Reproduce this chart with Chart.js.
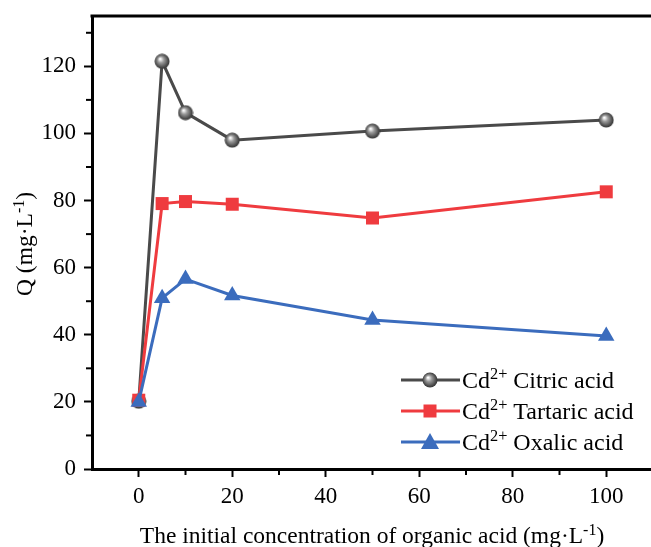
<!DOCTYPE html>
<html>
<head>
<meta charset="utf-8">
<script src="https://cdn.jsdelivr.net/npm/chart.js@4/dist/chart.umd.min.js"></script>
<style>
  html, body { margin: 0; padding: 0; background: #fff; overflow: hidden; }
  canvas { display: block; }
</style>
</head>
<body>
<canvas id="myChart" width="653" height="547"></canvas>
<script>
// data
var concentration = [0, 5, 10, 20, 50, 100];
var citricQ = [20.2, 121.5, 106.2, 98.0, 100.7, 104.0];
var tartaricQ = [20.5, 79.1, 79.7, 78.9, 74.8, 82.6];
var oxalicQ = [20.0, 50.9, 56.6, 51.7, 44.4, 39.6];
var seriesNames = ["Citric acid", "Tartaric acid", "Oxalic acid"];
var xTickLabels = [0, 20, 40, 60, 80, 100];
var yTickLabels = [0, 20, 40, 60, 80, 100, 120];

var serif = "'Liberation Serif', 'Times New Roman', serif";
var grey = "#4a4a4a";
var red = "#ef3b3f";
var blue = "#3b6cbd";

function pts(ys) {
    return concentration.map(function (x, i) { return {x: x, y: ys[i]}; });
}

// shaded sphere marker for citric acid
function makeSphere(d) {
    var c = document.createElement("canvas");
    c.width = d; c.height = d;
    var g = c.getContext("2d");
    var r = d / 2;
    var grad = g.createRadialGradient(r * 0.75, r * 0.7, 0.5, r, r, r);
    grad.addColorStop(0, "#ffffff");
    grad.addColorStop(0.35, "#9a9a9a");
    grad.addColorStop(0.8, "#4a4a4a");
    grad.addColorStop(1, "#2e2e2e");
    g.fillStyle = grad;
    g.beginPath();
    g.arc(r, r, r - 0.5, 0, Math.PI * 2);
    g.fill();
    return c;
}
var sphere = makeSphere(16);

// text with superscripts; parts = [[text, isSup], ...]
function richWidth(ctx, parts, size) {
    var w = 0;
    parts.forEach(function (p) {
        ctx.font = (p[1] ? size * 0.68 : size) + "px " + serif;
        w += ctx.measureText(p[0]).width;
    });
    return w;
}
function drawRich(ctx, parts, x, y, size) {
    parts.forEach(function (p) {
        ctx.font = (p[1] ? size * 0.68 : size) + "px " + serif;
        ctx.fillText(p[0], x, p[1] ? y - size * 0.36 : y);
        x += ctx.measureText(p[0]).width;
    });
}

var decorations = {
    id: "decorations",
    afterDraw: function (chart) {
        var ctx = chart.ctx;
        var area = chart.chartArea;
        var xs = chart.scales.x, ys = chart.scales.y;
        ctx.save();
        ctx.strokeStyle = "#000";
        ctx.fillStyle = "#000";

        // top frame line
        ctx.lineWidth = 3;
        ctx.beginPath();
        ctx.moveTo(area.left - 1.5, area.top);
        ctx.lineTo(area.right, area.top);
        ctx.stroke();

        // minor ticks
        ctx.lineWidth = 2;
        for (var v = 10; v < 110; v += 20) {
            var px = xs.getPixelForValue(v);
            ctx.beginPath();
            ctx.moveTo(px, area.bottom);
            ctx.lineTo(px, area.bottom + 6);
            ctx.stroke();
        }
        for (var w = 10; w < 135; w += 20) {
            var py = ys.getPixelForValue(w);
            ctx.beginPath();
            ctx.moveTo(area.left, py);
            ctx.lineTo(area.left - 6, py);
            ctx.stroke();
        }

        // axis titles
        ctx.textBaseline = "alphabetic";
        ctx.textAlign = "left";
        var xt = [["The initial concentration of organic acid (mg\u00b7L", false], ["-1", true], [")", false]];
        var xw = richWidth(ctx, xt, 23.5);
        drawRich(ctx, xt, 372 - xw / 2, 543, 23.5);

        var yt = [["Q (mg\u00b7L", false], ["-1", true], [")", false]];
        ctx.save();
        ctx.translate(32, 244);
        ctx.rotate(-Math.PI / 2);
        var yw = richWidth(ctx, yt, 23.5);
        drawRich(ctx, yt, -yw / 2, 0, 23.5);
        ctx.restore();

        // legend
        var rows = [380, 411, 442];
        var colors = [grey, red, blue];
        chart.data.datasets.forEach(function (ds, i) {
            var y = rows[i];
            ctx.strokeStyle = colors[i];
            ctx.lineWidth = 3;
            ctx.beginPath();
            ctx.moveTo(401, y);
            ctx.lineTo(460, y);
            ctx.stroke();
            ctx.fillStyle = colors[i];
            if (i === 0) {
                ctx.drawImage(sphere, 430 - 8, y - 8);
            } else if (i === 1) {
                ctx.fillRect(430 - 6.5, y - 6.5, 13, 13);
            } else {
                ctx.beginPath();
                ctx.moveTo(430, y - 9);
                ctx.lineTo(439, y + 7);
                ctx.lineTo(421, y + 7);
                ctx.closePath();
                ctx.fill();
            }
            ctx.fillStyle = "#000";
            drawRich(ctx, [["Cd", false], ["2+", true], [" " + seriesNames[i], false]], 462, y + 8, 24);
        });
        ctx.restore();
    }
};

new Chart("myChart", {
    type: "line",
    data: {
        datasets: [{
            label: seriesNames[0],
            data: pts(citricQ),
            borderColor: grey,
            borderWidth: 3,
            pointStyle: sphere,
            order: 3
        }, {
            label: seriesNames[1],
            data: pts(tartaricQ),
            borderColor: red,
            backgroundColor: red,
            borderWidth: 3,
            pointStyle: "rect",
            pointRadius: 9.2,
            pointBorderWidth: 0,
            order: 2
        }, {
            label: seriesNames[2],
            data: pts(oxalicQ),
            borderColor: blue,
            backgroundColor: blue,
            borderWidth: 3,
            pointStyle: "triangle",
            pointRadius: 9.5,
            pointBorderWidth: 0,
            order: 1
        }]
    },
    options: {
        responsive: false,
        animation: false,
        layout: {autoPadding: false, padding: {top: 16, left: 0, right: 0, bottom: 0}},
        plugins: {legend: {display: false}, tooltip: {enabled: false}},
        scales: {
            x: {
                type: "linear",
                min: -10,
                max: 110,
                afterBuildTicks: function (s) { s.ticks = xTickLabels.map(function (v) { return {value: v}; }); },
                afterFit: function (s) { s.height = 78; s.paddingLeft = 0; s.paddingRight = 0; },
                ticks: {color: "#000", font: {family: serif, size: 23}, padding: 6, maxRotation: 0},
                grid: {drawOnChartArea: false, drawTicks: true, tickLength: 8, tickWidth: 2, tickColor: "#000"},
                border: {display: true, color: "#000", width: 3}
            },
            y: {
                min: 0,
                max: 135,
                afterBuildTicks: function (s) { s.ticks = yTickLabels.map(function (v) { return {value: v}; }); },
                afterFit: function (s) { s.width = 92; s.paddingTop = 0; s.paddingBottom = 0; },
                ticks: {color: "#000", font: {family: serif, size: 23}, padding: 8},
                grid: {drawOnChartArea: false, drawTicks: true, tickLength: 8, tickWidth: 2, tickColor: "#000"},
                border: {display: true, color: "#000", width: 3}
            }
        }
    },
    plugins: [decorations]
});
</script>
</body>
</html>
